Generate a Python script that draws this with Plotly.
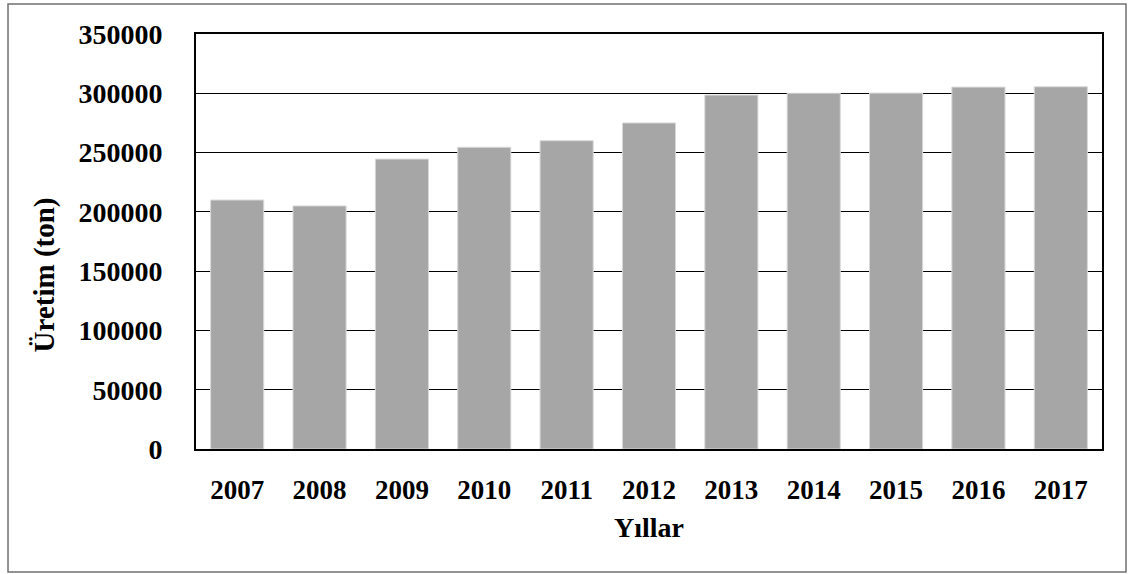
import plotly.graph_objects as go

years = ["2007", "2008", "2009", "2010", "2011", "2012", "2013", "2014", "2015", "2016", "2017"]
production = [210000, 205000, 244500, 254500, 260000, 275000, 298500, 300000, 300200, 305200, 305500]
y_ticks = [0, 50000, 100000, 150000, 200000, 250000, 300000, 350000]

FONT = "Liberation Serif"

fig = go.Figure(
    go.Bar(
        x=years,
        y=production,
        marker=dict(color="#a6a6a6", line=dict(color="#d9d9d9", width=1)),
        width=0.645,
    )
)

fig.update_layout(
    width=1130,
    height=574,
    margin=dict(l=196, r=28, t=34, b=125),
    paper_bgcolor="white",
    plot_bgcolor="white",
    showlegend=False,
    font=dict(family=FONT, color="black"),
    annotations=[
        dict(
            text="Üretim (ton)", xref="paper", yref="paper", x=-0.167, y=0.42,
            xanchor="center", yanchor="middle",
            textangle=-90, showarrow=False, font=dict(family=FONT, size=29, weight=700),
        ),
        dict(
            text="Yıllar", xref="paper", yref="paper", x=0.5, y=-0.19,
            xanchor="center", yanchor="middle",
            showarrow=False, font=dict(family=FONT, size=28, weight=700),
        ),
    ],
    shapes=[
        dict(type="rect", xref="paper", yref="paper", x0=-0.2075, x1=1.0265,
             y0=-0.2964, y1=1.0723, line=dict(color="#707070", width=1.5)),
    ],
)

fig.update_xaxes(
    type="category",
    showline=True, linecolor="black", linewidth=2, mirror=True,
    showgrid=False, ticks="",
    tickfont=dict(family=FONT, size=27, weight=700),
    ticklabelstandoff=16,
)
fig.update_yaxes(
    range=[0, 350000],
    tickvals=y_ticks,
    ticktext=[str(v) for v in y_ticks],
    showline=True, linecolor="black", linewidth=2, mirror=True,
    showgrid=True, gridcolor="black", gridwidth=1,
    zeroline=False, ticks="",
    tickfont=dict(family=FONT, size=28, weight=700),
    ticklabelstandoff=26,
)

fig.write_html("out.html")
